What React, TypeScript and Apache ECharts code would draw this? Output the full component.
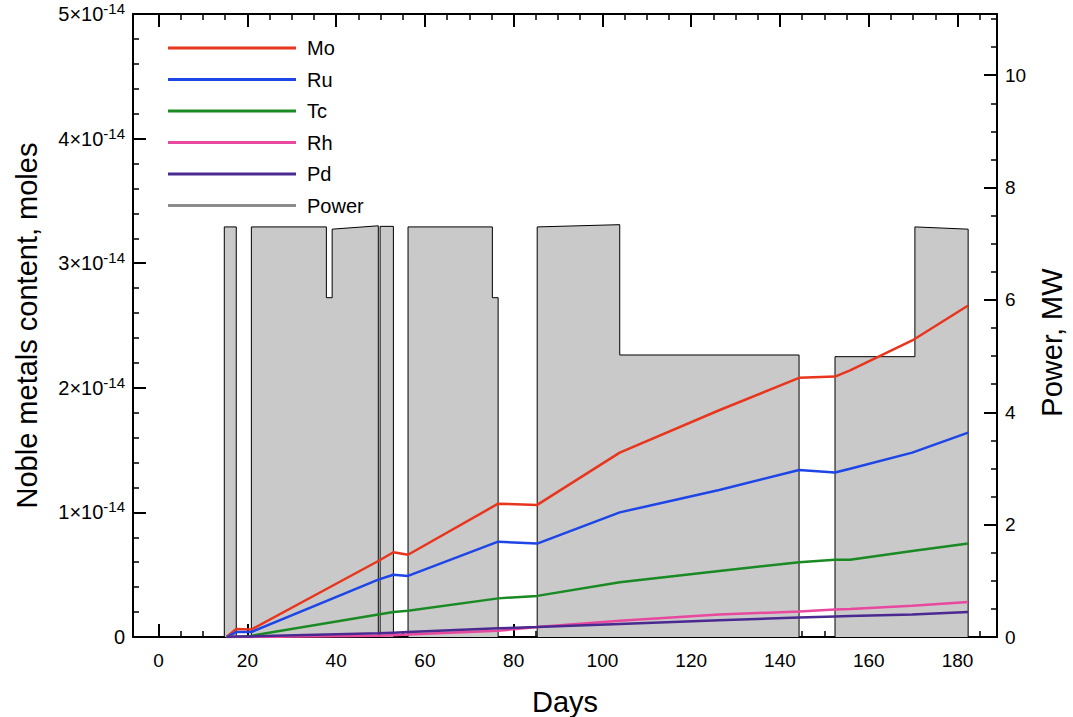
import React, { useEffect, useRef } from "react";
import * as echarts from "echarts";

const FONT = '"Liberation Sans", Arial, Helvetica, sans-serif';

// Days at which the metal curves are read (shared x positions)
const metalDays = [15.3, 17.5, 20.9, 49.5, 52.9, 56.2, 76.5, 85.3, 103.9, 126.3, 144.3, 152.4, 155.8, 169.8, 182.4];
// Noble metal contents, in units of 1e-14 moles
const moValues = [0, 0.065, 0.06, 0.61, 0.68, 0.66, 1.07, 1.06, 1.48, 1.82, 2.08, 2.09, 2.14, 2.38, 2.66];
const ruValues = [0, 0.04, 0.04, 0.46, 0.5, 0.49, 0.765, 0.75, 1.0, 1.18, 1.34, 1.32, 1.35, 1.48, 1.64];
const tcValues = [0, 0, 0.01, 0.18, 0.2, 0.21, 0.31, 0.33, 0.44, 0.53, 0.6, 0.62, 0.62, 0.69, 0.75];
const rhValues = [0, 0, 0, 0.01, 0.015, 0.02, 0.05, 0.08, 0.13, 0.18, 0.205, 0.22, 0.225, 0.25, 0.28];
const pdValues = [0, 0.005, 0.005, 0.03, 0.035, 0.04, 0.07, 0.08, 0.105, 0.135, 0.157, 0.165, 0.168, 0.18, 0.2];

// Reactor power history (MW)
const powerDays = [0, 14.8, 14.8, 17.5, 17.5, 20.9, 20.9, 37.8, 37.8, 39.1, 39.1, 49.5, 49.5, 49.9, 49.9, 52.9, 52.9, 56.2, 56.2, 75.2, 75.2, 76.5, 76.5, 85.3, 85.3, 103.9, 103.9, 144.3, 144.3, 152.4, 152.4, 170.4, 170.4, 182.4, 182.4];
const powerMW = [0, 0, 7.3, 7.3, 0, 0, 7.3, 7.3, 6.04, 6.04, 7.26, 7.32, 0, 0, 7.31, 7.31, 0, 0, 7.3, 7.3, 6.04, 6.04, 0, 0, 7.3, 7.34, 5.02, 5.02, 0, 0, 4.99, 4.99, 7.3, 7.26, 0];

// Tick values
const dayMajorTicks = [0, 20, 40, 60, 80, 100, 120, 140, 160, 180];
const dayMinorTicks = [5, 10, 15, 25, 30, 35, 45, 50, 55, 65, 70, 75, 85, 90, 95, 105, 110, 115, 125, 130, 135, 145, 150, 155, 165, 170, 175, 185];
const powerMajorTicks = [0, 2, 4, 6, 8, 10];
const powerMinorTicks = [0.5, 1, 1.5, 2.5, 3, 3.5, 4.5, 5, 5.5, 6.5, 7, 7.5, 8.5, 9, 9.5, 10.5, 11];

const seriesNames = ["Mo", "Ru", "Tc", "Rh", "Pd"];
const seriesColors = ["#e8361e", "#1e46e6", "#1a8a24", "#e8489e", "#4a2a90"];
const seriesValues = [moValues, ruValues, tcValues, rhValues, pdValues];

const X_MIN = -5.77;
const X_MAX = 188.9;
const P_MAX = 11.09;

const zip = (xs: number[], ys: number[]) => xs.map((x, i) => [x, ys[i]]);

export default function App() {
  const ref = useRef<HTMLDivElement>(null);
  useEffect(() => {
    if (!ref.current) return;
    const chart = echarts.init(ref.current, undefined, { renderer: "svg" });
    const black = "#000";
    const tickLine = { color: black, width: 1.5 };
    const xBase = (position: string) => ({
      type: "value",
      min: X_MIN,
      max: X_MAX,
      position,
      splitLine: { show: false },
    });
    const option: any = {
      animation: false,
      backgroundColor: "#fff",
      grid: { left: 133, right: 76, top: 14, bottom: 80, outerBoundsMode: "none" },
      legend: {
        orient: "vertical",
        left: 163,
        top: 33,
        itemWidth: 128,
        itemHeight: 3,
        itemGap: 11.5,
        icon: "rect",
        selectedMode: false,
        data: [...seriesNames, "Power"],
        textStyle: { fontSize: 20, fontFamily: FONT, color: black, lineHeight: 20, padding: [0, 0, 0, 6] },
      },
      xAxis: [
        {
          ...xBase("bottom"),
          axisLine: { show: true, onZero: false, lineStyle: { color: black, width: 2 } },
          axisTick: { show: true, inside: true, length: 13, customValues: dayMajorTicks, lineStyle: { color: black, width: 2 } },
          axisLabel: { customValues: dayMajorTicks, fontSize: 19, fontFamily: FONT, color: black, margin: 14 },
          name: "Days",
          nameLocation: "middle",
          nameGap: 50,
          nameTextStyle: { fontSize: 29, fontFamily: FONT, color: black },
        },
        {
          ...xBase("bottom"),
          axisLine: { show: false, onZero: false },
          axisTick: { show: true, inside: true, length: 6, customValues: dayMinorTicks, lineStyle: tickLine },
          axisLabel: { show: false },
        },
        {
          ...xBase("top"),
          axisLine: { show: true, onZero: false, lineStyle: { color: black, width: 2 } },
          axisTick: { show: true, inside: true, length: 13, customValues: dayMajorTicks, lineStyle: { color: black, width: 2 } },
          axisLabel: { show: false },
        },
        {
          ...xBase("top"),
          axisLine: { show: false, onZero: false },
          axisTick: { show: true, inside: true, length: 6, customValues: dayMinorTicks, lineStyle: tickLine },
          axisLabel: { show: false },
        },
      ],
      yAxis: [
        {
          type: "value",
          min: 0,
          max: 5,
          interval: 1,
          position: "left",
          splitLine: { show: false },
          axisLine: { show: true, onZero: false, lineStyle: { color: black, width: 2 } },
          axisTick: { show: true, inside: true, length: 13, lineStyle: { color: black, width: 2 } },
          minorTick: { show: true, splitNumber: 5, length: 6, lineStyle: tickLine },
          axisLabel: {
            fontSize: 20,
            fontFamily: FONT,
            color: black,
            margin: 8,
            formatter: (v: number) => (v === 0 ? "0" : `{b|${v}×10}{s|-14}`),
            rich: {
              b: { fontSize: 20, fontFamily: FONT, color: black, lineHeight: 26 },
              s: { fontSize: 15, fontFamily: FONT, color: black, lineHeight: 14, verticalAlign: "top" },
            },
          },
          name: "Noble metals content, moles",
          nameLocation: "middle",
          nameRotate: 90,
          nameGap: 92,
          nameTextStyle: { fontSize: 29, fontFamily: FONT, color: black },
        },
        {
          type: "value",
          min: 0,
          max: P_MAX,
          position: "right",
          splitLine: { show: false },
          axisLine: { show: true, onZero: false, lineStyle: { color: black, width: 2 } },
          axisTick: { show: true, inside: true, length: 13, customValues: powerMajorTicks, lineStyle: { color: black, width: 2 } },
          axisLabel: { customValues: powerMajorTicks, fontSize: 19, fontFamily: FONT, color: black, margin: 8 },
          name: "Power, MW",
          nameLocation: "middle",
          nameRotate: 90,
          nameGap: 39,
          nameTextStyle: { fontSize: 29, fontFamily: FONT, color: black, padding: [0, 34, 0, 0] },
        },
        {
          type: "value",
          min: 0,
          max: P_MAX,
          position: "right",
          splitLine: { show: false },
          axisLine: { show: false, onZero: false },
          axisTick: { show: true, inside: true, length: 6, customValues: powerMinorTicks, lineStyle: tickLine },
          axisLabel: { show: false },
        },
      ],
      series: [
        {
          name: "Power",
          type: "line",
          xAxisIndex: 0,
          yAxisIndex: 1,
          data: zip(powerDays, powerMW),
          symbol: "none",
          showSymbol: false,
          lineStyle: { color: black, width: 1 },
          itemStyle: { color: "#8c8c8c" },
          areaStyle: { color: "#c9c9c9", opacity: 1 },
          z: 1,
        },
        ...seriesNames.map((name, i) => ({
          name,
          type: "line",
          xAxisIndex: 0,
          yAxisIndex: 0,
          data: zip(metalDays, seriesValues[i]),
          symbol: "none",
          showSymbol: false,
          lineStyle: { color: seriesColors[i], width: 2.5 },
          itemStyle: { color: seriesColors[i] },
          z: 3 + i,
        })),
      ],
    };
    chart.setOption(option);
    return () => chart.dispose();
  }, []);
  return (
    <div
      ref={ref}
      style={{ position: "fixed", left: 0, top: 0, width: 1073, height: 717, background: "#fff" }}
    />
  );
}
